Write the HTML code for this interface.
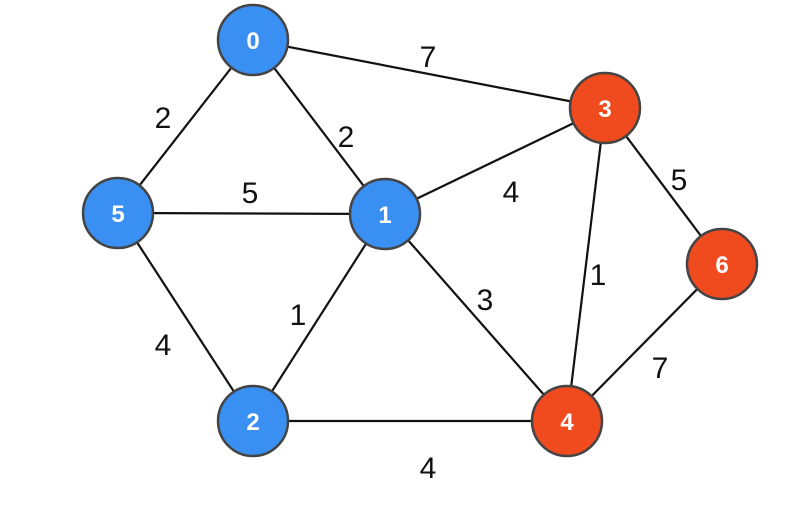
<!DOCTYPE html>
<html><head><style>body{margin:0;background:#fff}</style></head><body>
<svg width="795" height="511" xmlns="http://www.w3.org/2000/svg" font-family="Liberation Sans, sans-serif">
<g stroke="#111" stroke-width="2.2">
<line x1="253" y1="40" x2="605" y2="108"/>
<line x1="253" y1="40" x2="118" y2="213"/>
<line x1="253" y1="40" x2="385" y2="214"/>
<line x1="118" y1="213" x2="385" y2="214"/>
<line x1="118" y1="213" x2="253" y2="421"/>
<line x1="385" y1="214" x2="605" y2="108"/>
<line x1="385" y1="214" x2="253" y2="421"/>
<line x1="385" y1="214" x2="567" y2="421"/>
<line x1="605" y1="108" x2="567" y2="421"/>
<line x1="605" y1="108" x2="722" y2="264"/>
<line x1="722" y1="264" x2="567" y2="421"/>
<line x1="253" y1="421" x2="567" y2="421"/>
</g>
<g font-size="30" fill="#111" text-anchor="middle">
<text x="428" y="67">7</text>
<text x="163" y="128">2</text>
<text x="346" y="147">2</text>
<text x="250" y="203">5</text>
<text x="511" y="202">4</text>
<text x="679" y="190">5</text>
<text x="598" y="285">1</text>
<text x="298" y="325">1</text>
<text x="485" y="310">3</text>
<text x="163" y="355">4</text>
<text x="660" y="378">7</text>
<text x="428" y="478">4</text>
</g>
<g stroke="#444" stroke-width="2.5">
<circle cx="253" cy="40" r="35" fill="#3a8ff2"/>
<circle cx="118" cy="213" r="35" fill="#3a8ff2"/>
<circle cx="385" cy="214" r="35" fill="#3a8ff2"/>
<circle cx="253" cy="421" r="35" fill="#3a8ff2"/>
<circle cx="605" cy="108" r="35" fill="#f04a1f"/>
<circle cx="722" cy="264" r="35" fill="#f04a1f"/>
<circle cx="567" cy="421" r="35" fill="#f04a1f"/>
</g>
<g font-size="24" font-weight="bold" fill="#fff" text-anchor="middle">
<text x="253" y="49">0</text>
<text x="118" y="222">5</text>
<text x="385" y="223">1</text>
<text x="253" y="430">2</text>
<text x="605" y="117">3</text>
<text x="722" y="273">6</text>
<text x="567" y="430">4</text>
</g>
</svg>
</body></html>
